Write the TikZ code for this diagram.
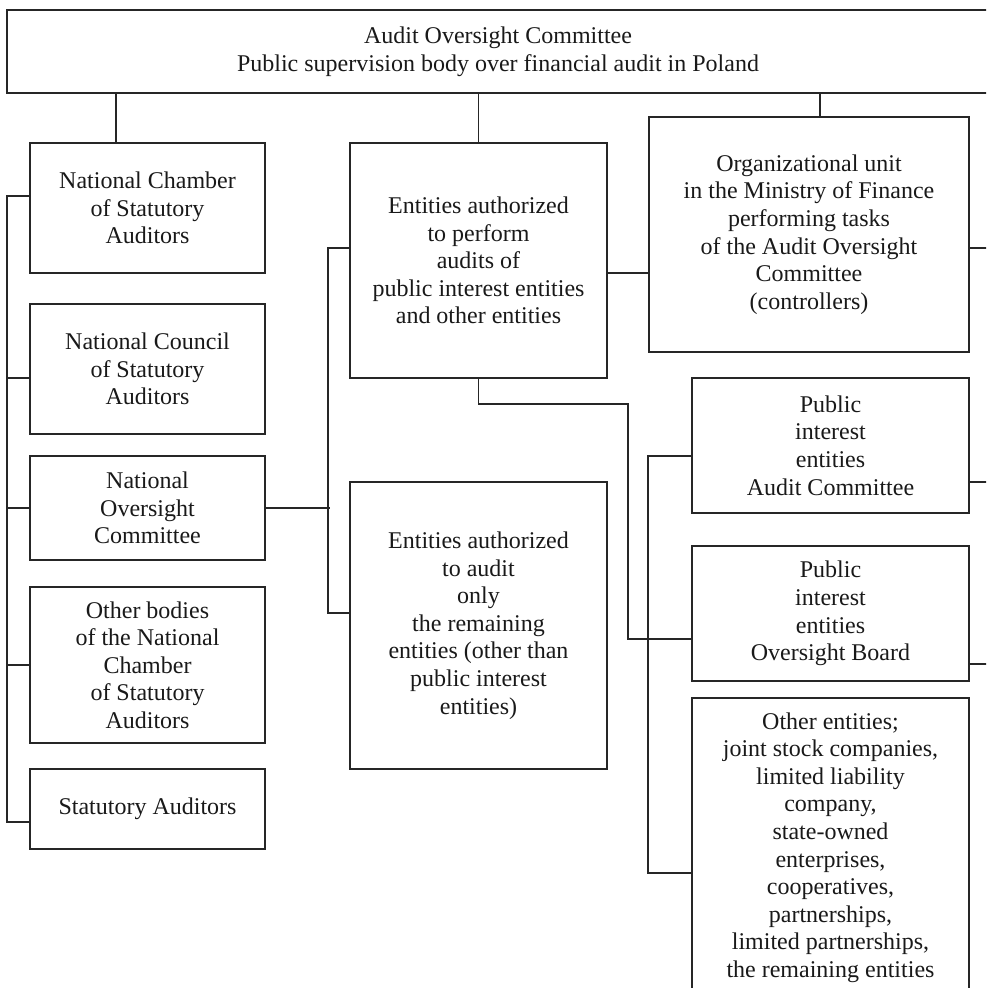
\documentclass[tikz,border=0pt]{standalone}
\usepackage{fontspec}
\setmainfont{Liberation Serif}
\begin{document}
\begin{tikzpicture}[x=1pt, y=-1pt,
    box/.style={draw=black!85, line width=1.8pt, rectangle, inner sep=0pt, align=center,
      text=black!90, font=\fontsize{24}{27.6}\selectfont},
    link/.style={draw=black!85, line width=1.8pt}]
  \useasboundingbox (0,0) rectangle (986,988);
  \clip (0,0) rectangle (986,988);
  % top body
  \node[box, minimum width=982, minimum height=83] (aoc) at (498,51.5)
    {Audit Oversight Committee\\Public supervision body over financial audit in Poland};
  % left column
  \node[box, minimum width=235, minimum height=130] (ncsa) at (147.5,208)
    {National Chamber\\of Statutory\\Auditors};
  \node[box, minimum width=235, minimum height=130] (ncouncil) at (147.5,369)
    {National Council\\of Statutory\\Auditors};
  \node[box, minimum width=235, minimum height=104] (noc) at (147.5,508)
    {National\\Oversight\\Committee};
  \node[box, minimum width=235, minimum height=156] (obodies) at (147.5,665)
    {Other bodies\\of the National\\Chamber\\of Statutory\\Auditors};
  \node[box, minimum width=235, minimum height=80] (sa) at (147.5,809)
    {Statutory Auditors};
  % middle column
  \node[box, minimum width=257, minimum height=235] (authall) at (478.5,260.5)
    {Entities authorized\\to perform\\audits of\\public interest entities\\and other entities};
  \node[box, minimum width=257, minimum height=287] (authrest) at (478.5,625.5)
    {Entities authorized\\to audit\\only\\the remaining\\entities (other than\\public interest\\entities)};
  % right column
  \node[box, minimum width=320, minimum height=235] (unit) at (809,234.5)
    {Organizational unit\\in the Ministry of Finance\\performing tasks\\of the Audit Oversight\\Committee\\(controllers)};
  \node[box, minimum width=277, minimum height=135] (pieac) at (830.5,445.5)
    {Public\\interest\\entities\\Audit Committee};
  \node[box, minimum width=277, minimum height=135] (pieob) at (830.5,613.5)
    {Public\\interest\\entities\\Oversight Board};
  \node[box, minimum width=277, minimum height=299] (others) at (830.5,847.5)
    {Other entities;\\joint stock companies,\\limited liability\\company,\\state-owned\\enterprises,\\cooperatives,\\partnerships,\\limited partnerships,\\the remaining entities};

  % drops from the top body
  \coordinate (dropl) at (116,0);
  \coordinate (dropr) at (820,0);
  \draw[link] (aoc.south -| dropl) -- (ncsa.north -| dropl);
  \draw[link] (aoc.south -| authall.north) -- (authall.north);
  \draw[link] (aoc.south -| dropr) -- (unit.north -| dropr);

  % left bus
  \draw[link] ([yshift=12pt]ncsa.west) -- ++(-22,0) |- ([yshift=-13pt]sa.west);
  \foreach \n/\s in {ncouncil/-9, noc/0, obodies/0}
    \draw[link] ([yshift=\s pt]\n.west) -- ++(-22,0);

  % middle bus
  \draw[link] (noc.east) -- ++(64,0);
  \draw[link] ([yshift=12.5pt]authall.west) -- ++(-21,0) |- ([yshift=12.5pt]authrest.west);
  \draw[link] ([yshift=-12.5pt]authall.east) -- ++(42,0);

  % down to the boards
  \coordinate (bend) at (628,639);
  \draw[link] (authall.south) -- ++(0,25) -| (bend) -- ([yshift=-25.5pt]pieob.west);
  \draw[link] ([yshift=-10.5pt]pieac.west) -- ++(-43,0) |- ([yshift=-25.5pt]others.west);

  % right edge ticks
  \foreach \n/\s in {unit/-13.5, pieac/-36.5, pieob/-50.5}
    \draw[link] ([yshift=\s pt]\n.east) -- ++(30,0);
\end{tikzpicture}
\end{document}
